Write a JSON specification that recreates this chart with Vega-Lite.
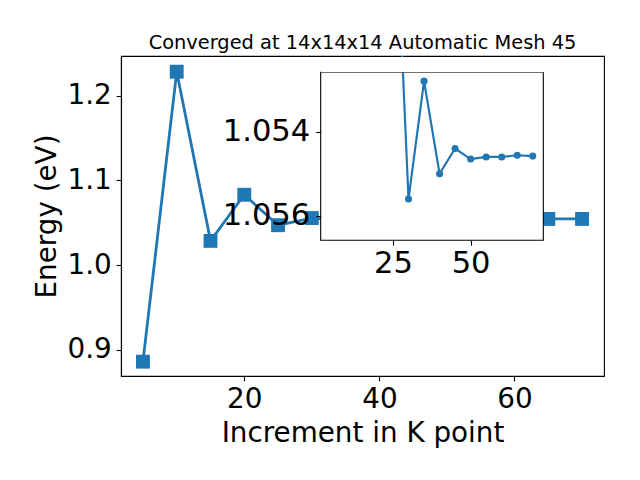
{
  "$schema": "https://vega.github.io/schema/vega-lite/v6.json",
  "width": 483,
  "height": 320,
  "autosize": {"type": "none"},
  "padding": {"left": 121, "top": 56, "right": 36, "bottom": 104},
  "background": "white",
  "title": {"text": "Converged at 14x14x14 Automatic Mesh 45", "font": "DejaVu Sans", "fontSize": 19.4, "fontWeight": "normal", "color": "black", "baseline": "alphabetic", "offset": -12, "anchor": "middle", "frame": "group"},
  "data": {"values": [
    {"k": 5, "energy": 0.8862},
    {"k": 10, "energy": 1.2283},
    {"k": 15, "energy": 1.0287},
    {"k": 20, "energy": 1.0831},
    {"k": 25, "energy": 1.0472},
    {"k": 30, "energy": 1.0556},
    {"k": 35, "energy": 1.0528},
    {"k": 40, "energy": 1.0550},
    {"k": 45, "energy": 1.0544},
    {"k": 50, "energy": 1.05465},
    {"k": 55, "energy": 1.0546},
    {"k": 60, "energy": 1.0546},
    {"k": 65, "energy": 1.05456},
    {"k": 70, "energy": 1.05458}
  ]},
  "config": {
    "view": {"stroke": "black", "strokeWidth": 1.1},
    "axis": {"labelFont": "DejaVu Sans", "labelFontSize": 27.8, "labelColor": "black", "titleFont": "DejaVu Sans", "titleFontSize": 27.8, "titleFontWeight": "normal", "titleColor": "black", "tickColor": "black", "tickSize": 4.9, "tickWidth": 1.1, "domainColor": "black", "domainWidth": 1.1, "labelPadding": 4.9, "grid": false, "labelFlush": false, "labelOverlap": false}
  },
  "resolve": {"scale": {"x": "independent", "y": "independent"}, "axis": {"x": "independent", "y": "independent"}},
  "layer": [
    {
      "mark": {"type": "line", "color": "#1f77b4", "strokeWidth": 2.8, "point": {"shape": "square", "size": 193, "filled": true, "color": "#1f77b4", "opacity": 1}},
      "encoding": {
        "x": {"field": "k", "type": "quantitative", "scale": {"domain": [1.75, 73.25], "nice": false, "zero": false}, "axis": {"orient": "bottom", "values": [20, 40, 60], "title": "Increment in K point", "titlePadding": 5.6}},
        "y": {"field": "energy", "type": "quantitative", "scale": {"domain": [0.8693, 1.2468], "nice": false, "zero": false}, "axis": {"orient": "left", "values": [0.9, 1.0, 1.1, 1.2], "format": ".1f", "title": "Energy (eV)", "titlePadding": 5.6}}
      }
    },
    {
      "data": {"values": [{}]},
      "mark": {"type": "rect", "fill": "white", "strokeWidth": 0},
      "encoding": {
        "x": {"datum": 1.73, "type": "quantitative", "scale": {"domain": [1.73, 73.4], "range": [199.7, 422.3], "nice": false, "zero": false}, "axis": null},
        "x2": {"datum": 73.4},
        "y": {"datum": 1.05259, "type": "quantitative", "scale": {"domain": [1.05259, 1.05658], "range": [16.3, 184.3], "nice": false, "zero": false}, "axis": null},
        "y2": {"datum": 1.05658}
      }
    },
    {
      "transform": [{"filter": "datum.k >= 30"}],
      "mark": {"type": "line", "color": "#1f77b4", "strokeWidth": 2.2, "point": {"shape": "circle", "size": 50, "filled": true, "color": "#1f77b4", "opacity": 1}},
      "encoding": {
        "x": {"field": "k", "type": "quantitative", "scale": {"domain": [1.73, 73.4], "range": [199.7, 422.3], "nice": false, "zero": false}, "axis": {"orient": "bottom", "offset": -135.7, "values": [25, 50], "format": "d", "title": null, "domain": false, "zindex": 1, "labelFontSize": 30.6, "labelPadding": 3}},
        "y": {"field": "energy", "type": "quantitative", "scale": {"domain": [1.05259, 1.05658], "range": [16.3, 184.3], "nice": false, "zero": false}, "axis": {"orient": "left", "offset": -199.7, "values": [1.054, 1.056], "format": ".3f", "title": null, "domain": false, "zindex": 1, "labelFontSize": 30.6, "labelPadding": 6}}
      }
    },
    {
      "transform": [{"filter": "datum.k >= 25 && datum.k <= 30"}],
      "mark": {"type": "line", "color": "#1f77b4", "strokeWidth": 2.2, "clip": true},
      "encoding": {
        "x": {"field": "k", "type": "quantitative", "scale": {"domain": [1.73, 73.4], "range": [199.7, 422.3], "nice": false, "zero": false}, "axis": {"orient": "top", "offset": -8.2, "domainColor": "white", "domainWidth": 15.2, "domainCap": "butt", "ticks": false, "labels": false, "title": null, "zindex": 1}},
        "y": {"field": "energy", "type": "quantitative", "scale": {"domain": [1.05259, 1.05658], "range": [16.3, 184.3], "nice": false, "zero": false}, "axis": null}
      }
    },
    {
      "data": {"values": [{}]},
      "mark": {"type": "rect", "fill": null, "fillOpacity": 0, "stroke": "black", "strokeWidth": 1.1},
      "encoding": {
        "x": {"datum": 1.73, "type": "quantitative", "scale": {"domain": [1.73, 73.4], "range": [199.7, 422.3], "nice": false, "zero": false}, "axis": null},
        "x2": {"datum": 73.4},
        "y": {"datum": 1.05259, "type": "quantitative", "scale": {"domain": [1.05259, 1.05658], "range": [16.3, 184.3], "nice": false, "zero": false}, "axis": null},
        "y2": {"datum": 1.05658}
      }
    }
  ]
}
